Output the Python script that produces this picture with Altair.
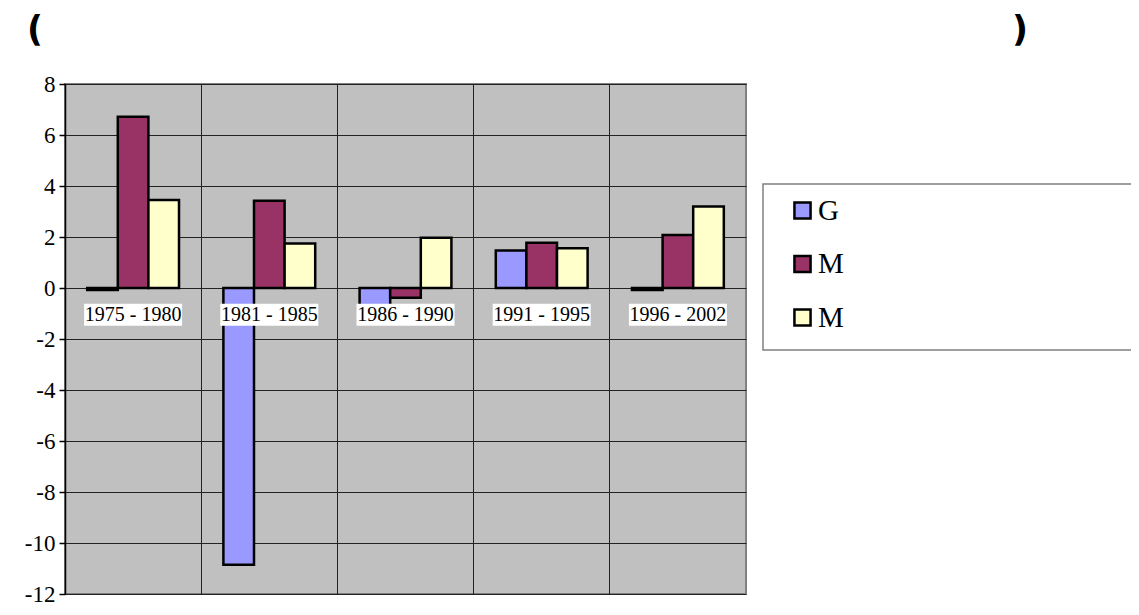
import altair as alt
import pandas as pd

categories = ["1975 - 1980", "1981 - 1985", "1986 - 1990", "1991 - 1995", "1996 - 2002"]
series = ["GDP", "M1", "M2"]
gdp = [-0.08, -10.85, -0.8, 1.47, -0.08]
m1 = [6.72, 3.42, -0.38, 1.77, 2.08]
m2 = [3.45, 1.75, 1.97, 1.56, 3.2]
colors = ["#9999FF", "#993366", "#FFFFCC"]
y_ticks = [-12, -10, -8, -6, -4, -2, 0, 2, 4, 6, 8]
title_left = "("
title_right = ")"

rows = []
for s, vals in zip(series, [gdp, m1, m2]):
    for c, v in zip(categories, vals):
        rows.append({"period": c, "series": s, "value": v})
df = pd.DataFrame(rows)
cat_df = pd.DataFrame({"period": categories})

SERIF = "Liberation Serif"
TOP = 76
H = 510

x_enc = alt.X("period:N", sort=categories,
              scale=alt.Scale(paddingInner=0, paddingOuter=0),
              axis=alt.Axis(grid=True, bandPosition=0, labels=False, ticks=False,
                            domain=False, title=None, gridColor="#222222", gridWidth=1))
y_scale = alt.Scale(domain=[-12, 8], nice=False, zero=False)

bars = alt.Chart(df).mark_bar(stroke="black", strokeWidth=2.5).encode(
    x=x_enc,
    xOffset=alt.XOffset("series:N", sort=series,
                        scale=alt.Scale(paddingInner=0, paddingOuter=0.725)),
    y=alt.Y("value:Q", scale=y_scale,
            axis=alt.Axis(values=y_ticks, title=None, labelFont=SERIF, labelFontSize=23,
                          labelExpr="toString(datum.value)",
                          labelColor="black", tickColor="black", tickSize=6, tickWidth=1.5,
                          domainColor="black", domainWidth=1.5, labelPadding=4,
                          gridColor="#222222", gridWidth=1)),
    color=alt.Color("series:N", sort=series,
                    scale=alt.Scale(domain=series, range=colors),
                    legend=alt.Legend(orient="none", legendX=723, legendY=112, title=None,
                                      symbolType="square", symbolSize=260,
                                      symbolStrokeColor="black", symbolStrokeWidth=2.5,
                                      labelFont=SERIF, labelFontSize=29, labelColor="black",
                                      labelExpr="substring(datum.label, 0, 1)",
                                      labelOffset=1, rowPadding=23.5, padding=0)),
)

label_box = alt.Chart(cat_df).mark_bar(width=98, color="white").encode(
    x=alt.X("period:N", sort=categories),
    y=alt.datum(-0.62),
    y2=alt.datum(-1.48),
)
label_text = alt.Chart(cat_df).mark_text(font=SERIF, fontSize=20, baseline="middle",
                                         color="black").encode(
    x=alt.X("period:N", sort=categories),
    y=alt.datum(-1.07),
    text="period:N",
)

legend_box = alt.Chart(pd.DataFrame({"k": [0]})).mark_rect(
    fill="white", stroke="#808080", strokeWidth=1.5).encode(
    x=alt.value(698), x2=alt.value(1090), y=alt.value(184 - 8 - TOP), y2=alt.value(350 - 8 - TOP))

t_left = alt.Chart(pd.DataFrame({"t": [title_left]})).mark_text(
    font="DejaVu Sans", fontSize=35, fontWeight="bold", baseline="middle", align="center",
    color="black").encode(x=alt.value(-30), y=alt.value(30 - 8 - TOP), text="t:N")
t_right = alt.Chart(pd.DataFrame({"t": [title_right]})).mark_text(
    font="DejaVu Sans", fontSize=35, fontWeight="bold", baseline="middle", align="center",
    color="black").encode(x=alt.value(955), y=alt.value(30 - 8 - TOP), text="t:N")

chart = alt.layer(legend_box, bars, label_box, label_text, t_left, t_right).properties(
    width=681, height=H,
    autosize=alt.AutoSizeParams(type="none"),
    padding={"left": 57, "top": TOP, "right": 385, "bottom": 13},
).configure(background="white").configure_view(fill="#C0C0C0", stroke="#808080", strokeWidth=2)

chart.save("out.html", embed_options={"renderer": "svg", "actions": False})
